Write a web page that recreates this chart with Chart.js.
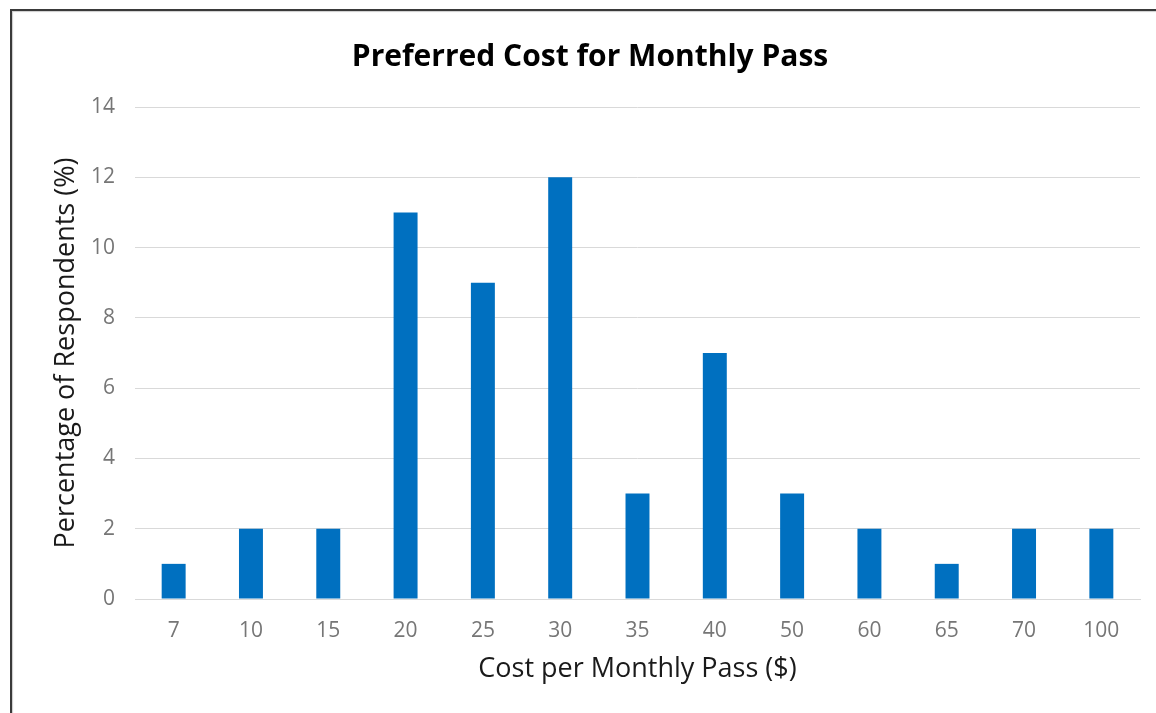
<!DOCTYPE html>
<html lang="en">
<head>
  <meta charset="UTF-8">
  <title>Preferred Cost for Monthly Pass</title>
  <script src="https://cdn.jsdelivr.net/npm/chart.js"></script>
  <style>
    html, body { margin: 0; padding: 0; background: #fff; overflow: hidden; }
    #frame {
      position: absolute;
      left: 10px;
      top: 9px;
      width: 1200px;
      height: 760px;
      border-left: 2px solid #3a3a3a;
      border-top: 2px solid #3a3a3a;
      box-shadow: 1px 1px 1px rgba(0,0,0,0.2) inset;
    }
    #wrap { position: absolute; left: 0; top: 0; width: 1156px; height: 713px; }
  </style>
</head>
<body>
  <div id="frame"></div>
  <div id="wrap"><canvas id="costChart"></canvas></div>

  <script>
    const costLabels = ['7', '10', '15', '20', '25', '30', '35', '40', '50', '60', '65', '70', '100'];
    const percentValues = [1, 2, 2, 11, 9, 12, 3, 7, 3, 2, 1, 2, 2];
    const yTicks = [0, 2, 4, 6, 8, 10, 12, 14];

    const FONT = "'Open Sans', sans-serif";

    const ctx = document.getElementById('costChart').getContext('2d');
    new Chart(ctx, {
      type: 'bar',
      data: {
        labels: costLabels,
        datasets: [{
          label: 'Percentage of Respondents',
          data: percentValues,
          backgroundColor: '#0070c0',
          barPercentage: 0.31,
          categoryPercentage: 1
        }]
      },
      options: {
        responsive: true,
        maintainAspectRatio: false,
        animation: false,
        layout: { padding: { left: 40, right: 16, top: 0, bottom: 0 } },
        plugins: {
          legend: { display: false },
          tooltip: { enabled: false },
          title: {
            display: true,
            text: 'Preferred Cost for Monthly Pass',
            color: '#000',
            font: { family: FONT, size: 30, weight: 'bold', lineHeight: 1.2 },
            padding: { top: 39, bottom: 32 }
          }
        },
        scales: {
          x: {
            grid: { display: false, drawTicks: false },
            border: { color: '#d9d9d9', width: 1 },
            ticks: {
              color: '#767676',
              font: { family: FONT, size: 21 },
              padding: 19,
              maxRotation: 0
            },
            title: {
              display: true,
              text: 'Cost per Monthly Pass ($)',
              color: '#1a1a1a',
              font: { family: FONT, size: 27, lineHeight: 1.2 },
              padding: { top: 0, bottom: 27 }
            },
            afterFit: scale => { scale.height = 114; }
          },
          y: {
            min: 0,
            max: 14,
            afterBuildTicks: scale => { scale.ticks = yTicks.map(v => ({ value: v })); },
            grid: { color: '#d9d9d9', drawTicks: false },
            border: { display: false },
            ticks: {
              color: '#767676',
              font: { family: FONT, size: 21 },
              padding: 20
            },
            title: {
              display: true,
              text: 'Percentage of Respondents (%)',
              color: '#1a1a1a',
              font: { family: FONT, size: 27, lineHeight: 1.2 },
              padding: { top: 10, bottom: 0 }
            },
            afterFit: scale => { scale.width = 95; }
          }
        }
      }
    });
  </script>
</body>
</html>
